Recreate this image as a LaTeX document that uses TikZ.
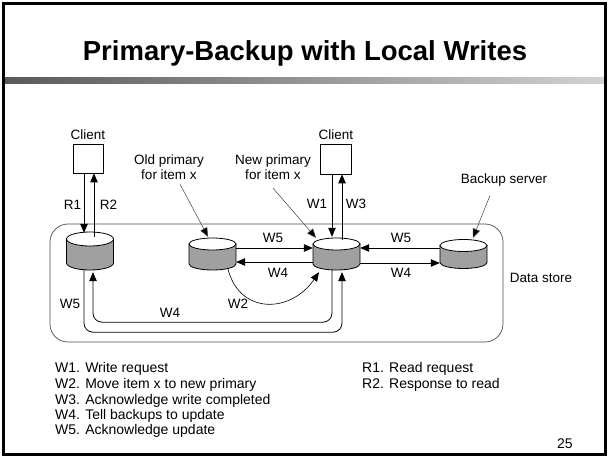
\documentclass[tikz,border=0pt]{standalone}
\usepackage{fontspec}
\setmainfont{Liberation Sans}
\usetikzlibrary{arrows.meta}
\definecolor{cylgray}{RGB}{160,160,160}
\newcommand\dbcyl[4]{%
  \begin{scope}[shift={(#1,#2)}]
    \filldraw[fill=cylgray,line width=0.8pt] (-23.5,{-#3+#4}) -- (-23.5,{#3-#4})
      arc[start angle=180,end angle=0,x radius=23.5,y radius=#4] -- (23.5,{-#3+#4}) -- cycle;
    \filldraw[fill=white,line width=0.8pt] (0,{-#3+#4}) ellipse[x radius=23.5,y radius=#4];
  \end{scope}}
\begin{document}
\begin{tikzpicture}[x=1pt,y=-1pt,
  lbl/.style={font=\fontsize{13.5}{15}\selectfont, inner sep=1pt},
  leg/.style={font=\fontsize{14}{16}\selectfont, inner sep=0pt, anchor=base west},
  arr/.style={line width=0.8pt, -{Triangle[length=9pt,width=7.5pt]}},
  ptr/.style={line width=0.5pt, draw=black!75, -{Triangle[length=9pt,width=7.5pt,fill=black]}},
  box/.style={draw, line width=0.7pt, minimum width=30pt, minimum height=29pt, inner sep=0pt},
  cyl/.style={inner sep=0pt, minimum width=47pt}]
\useasboundingbox (0,0) rectangle (608,457);
\fill[white] (0,0) rectangle (608,457);
\shade[left color=black!65, right color=black!18] (3,78) rectangle (605,83.5);
\draw[line width=2.8pt] (3.3,3.8) rectangle (605.7,454.3);
\node[font=\bfseries\fontsize{27.5}{30}\selectfont, anchor=base] (title) at (305,61) {Primary-Backup with Local Writes};

% data store
\node[draw=black!70, line width=0.7pt, rounded corners=18pt, minimum width=453pt, minimum height=118pt, inner sep=0pt] (ds) at (276.5,283) {};
\node[lbl] (dsl) at (541,278) {Data store};

% clients
\node[box] (cl1) at (88,158.5) {};
\node[box, minimum width=31pt, minimum height=30pt] (cl2) at (335.5,159) {};
\node[lbl] (cl1t) at (88,135) {Client};
\node[lbl] (cl2t) at (336,135) {Client};

% cylinders
\node[cyl, minimum height=38pt] (dl) at (90,251) {};
\dbcyl{90}{251}{19}{7}
\node[cyl, minimum height=32pt] (dold) at (212.5,254) {};
\dbcyl{212.5}{254}{16}{6}
\node[cyl, minimum height=32pt] (dnew) at (336.5,254) {};
\dbcyl{336.5}{254}{16}{6}
\node[cyl, minimum height=29pt] (dbk) at (463.5,254) {};
\dbcyl{463.5}{254}{14.5}{6}

% client arrows
\draw[arr] ([xshift=-4pt]cl1.south) -- ([xshift=-6pt,yshift=-1pt]dl.north);
\draw[arr] ([xshift=4pt,yshift=-5pt]dl.north) -- ([xshift=6pt]cl1.south);
\draw[arr] ([xshift=-3.5pt]cl2.south) -- ([xshift=-4.5pt,yshift=1pt]dnew.north);
\draw[arr] ([xshift=5.5pt,yshift=-2pt]dnew.north) -- ([xshift=6.5pt]cl2.south);
\node[lbl] (r1) at (72.5,205) {R1};
\node[lbl] (r2) at (108.5,205) {R2};
\node[lbl] (w1) at (317,204) {W1};
\node[lbl] (w3) at (356,204) {W3};

% horizontal arrows
\draw[arr] ([yshift=6pt]dold.east) -- ([yshift=6pt]dnew.west);
\draw[arr] ([yshift=-8pt]dnew.west) -- ([yshift=-8pt]dold.east);
\draw[arr] ([yshift=6pt]dbk.west) -- ([yshift=6pt]dnew.east);
\draw[arr] ([yshift=-9pt]dnew.east) -- ([yshift=-9pt]dbk.west);
\node[lbl] (w5a) at (273,238) {W5};
\node[lbl] (w4a) at (278,273) {W4};
\node[lbl] (w5b) at (401,238) {W5};
\node[lbl] (w4b) at (401,273) {W4};

% W2 curve
\draw[arr, line width=0.6pt] ([xshift=15.5pt,yshift=1pt]dold.south) .. controls +(12,46) and +(-28,41) .. ([xshift=-17.5pt,yshift=-2pt]dnew.south);
\node[lbl] (w2) at (238,304) {W2};

% long routes
\draw[arr, rounded corners=9pt] ([xshift=-4.5pt]dnew.south) -- ++(0,52) -| ([xshift=3pt,yshift=-2pt]dl.south);
\draw[arr, rounded corners=9pt] ([xshift=-6pt]dl.south) -- ++(0,62) -| ([xshift=5.5pt,yshift=-2pt]dnew.south);
\node[lbl] (w4c) at (170,313) {W4};
\node[lbl] (w5c) at (70,304) {W5};

% pointer labels
\node[lbl, align=center] (olbl) at (169,167.5) {Old primary\\for item x};
\node[lbl, align=center] (nlbl) at (273,167.5) {New primary\\for item x};
\node[lbl] (bsl) at (504,180) {Backup server};
\draw[ptr] ([xshift=11pt,yshift=-3pt]olbl.south) -- ([xshift=-4.5pt,yshift=1pt]dold.north);
\draw[ptr] ([yshift=-7pt]nlbl.south) -- ([xshift=-20.5pt]dnew.north);
\draw[ptr] ([xshift=-14pt,yshift=-8pt]bsl.south) -- ([xshift=9.5pt,yshift=1.5pt]dbk.north);

% legend
\node[leg] (l1) at (55,372) {W1. Write request};
\node[leg] (l2) at (55,388) {W2. Move item x to new primary};
\node[leg] (l3) at (55,404) {W3. Acknowledge write completed};
\node[leg] (l4) at (55,419) {W4. Tell backups to update};
\node[leg] (l5) at (55,434) {W5. Acknowledge update};
\node[leg] (m1) at (362,372) {R1. Read request};
\node[leg] (m2) at (362,388) {R2. Response to read};
\node[leg] (pg) at (557,448) {25};
\end{tikzpicture}
\end{document}
